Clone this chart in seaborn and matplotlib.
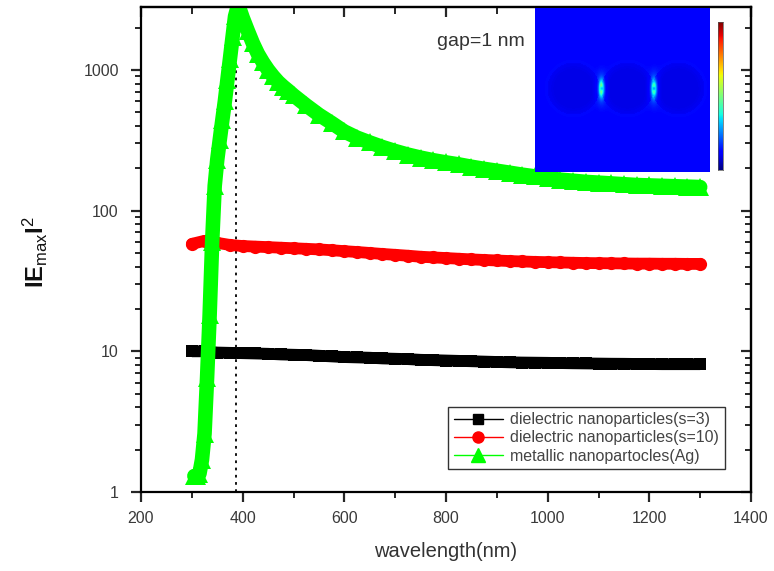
import numpy as np
import matplotlib
matplotlib.use("Agg")
import matplotlib.pyplot as plt
from matplotlib.lines import Line2D
from matplotlib.ticker import LogLocator, NullFormatter, MultipleLocator, FixedLocator
import seaborn as sns

# ---------------- data ----------------
wl_diel = [300, 325, 350, 375, 400, 425, 450, 475, 500, 525, 550, 575, 600, 625, 650,
           675, 700, 725, 750, 775, 800, 825, 850, 875, 900, 925, 950, 975, 1000, 1025,
           1050, 1075, 1100, 1125, 1150, 1175, 1200, 1225, 1250, 1275, 1300]
e_s3 = [10.0, 10.0, 9.8, 9.75, 9.7, 9.65, 9.6, 9.5, 9.45, 9.4, 9.3, 9.2, 9.1, 9.05, 9.0,
        8.9, 8.85, 8.8, 8.7, 8.65, 8.6, 8.55, 8.5, 8.45, 8.4, 8.35, 8.32, 8.3, 8.28, 8.25,
        8.22, 8.2, 8.18, 8.16, 8.15, 8.13, 8.12, 8.1, 8.1, 8.1, 8.1]
e_s10 = [58, 61, 59, 57, 56, 55.5, 55, 54.5, 54, 53.5, 53, 52.3, 51.5, 50.8, 50,
         49.2, 48.5, 47.8, 47, 46.5, 46, 45.5, 45, 44.6, 44.2, 43.8, 43.5, 43.2, 43, 42.8,
         42.6, 42.4, 42.3, 42.2, 42.1, 42, 42, 41.9, 41.9, 41.8, 41.8]
wl_ag = [305, 310, 315, 320, 325, 330, 335, 340, 345, 350, 355, 360, 365, 370, 375,
         380, 385, 390, 395, 400, 410, 420, 430, 440, 450, 460, 470, 480, 490, 500,
         525, 550, 575, 600, 625, 650, 675, 700, 725, 750, 775, 800, 825, 850, 875,
         900, 925, 950, 975, 1000, 1025, 1050, 1075, 1100, 1125, 1150, 1175, 1200,
         1225, 1250, 1275, 1300]
e_ag = [1.3, 1.3, 1.35, 1.7, 2.6, 6.5, 18, 60, 150, 230, 320, 440, 600, 850, 1200,
        1700, 2400, 2800, 2650, 2350, 1900, 1550, 1300, 1130, 1000, 900, 820, 760, 710, 660,
        560, 480, 420, 365, 330, 305, 283, 265, 250, 238, 228, 220, 213, 205, 198,
        192, 186, 180, 175, 170, 166, 163, 160, 158, 156, 154, 152, 151,
        150, 149, 148, 147]
labels = ["dielectric nanoparticles(s=3)", "dielectric nanoparticles(s=10)",
          "metallic nanopartocles(Ag)"]
peak_wl = 386
xticks = [200, 400, 600, 800, 1000, 1200, 1400]
yticks = [1, 10, 100, 1000]
ytick_labels = ["1", "10", "100", "1000"]

# ---------------- style ----------------
sns.set_style("ticks")
plt.rcParams["font.family"] = ["Liberation Sans", "DejaVu Sans"]
plt.rcParams["mathtext.fontset"] = "custom"
plt.rcParams["mathtext.rm"] = "Liberation Sans"
plt.rcParams["mathtext.bf"] = "Liberation Sans:bold"
plt.rcParams["mathtext.it"] = "Liberation Sans"

fig = plt.figure(figsize=(7.74, 5.71), dpi=100)
L, R, T, B = 141, 751, 7, 492
W, H = 774, 571
ax = fig.add_axes([L / W, 1 - B / H, (R - L) / W, (B - T) / H])

sns.lineplot(x=wl_diel, y=e_s3, ax=ax, color="black", linewidth=8.5, marker="s",
             markersize=8.5, markeredgewidth=0, sort=False, legend=False,
             solid_capstyle="butt")
sns.lineplot(x=wl_diel, y=e_s10, ax=ax, color="#ff0000", linewidth=8.5, marker="o",
             markersize=9.5, markeredgewidth=0, sort=False, legend=False,
             solid_capstyle="round")
sns.lineplot(x=wl_ag, y=e_ag, ax=ax, color="#00ff00", linewidth=10.5, marker="^",
             markersize=12.5, markeredgewidth=0, sort=False, legend=False,
             solid_capstyle="round", solid_joinstyle="round")

ax.axvline(peak_wl, color="black", linestyle=(0, (1.5, 2.5)), linewidth=1.3, zorder=1)

ax.set_yscale("log")
ax.set_xlim(200, 1400)
ax.set_ylim(1, 2800)

lw_sp = 1.6
for s in ax.spines.values():
    s.set_linewidth(lw_sp)
    s.set_color("black")

ax.xaxis.set_major_locator(FixedLocator(xticks))
ax.xaxis.set_minor_locator(MultipleLocator(100))
ax.set_yticks(yticks)
ax.set_yticklabels(ytick_labels)
ax.yaxis.set_minor_locator(LogLocator(base=10, subs=np.arange(2, 10)))
ax.yaxis.set_minor_formatter(NullFormatter())
tick_col = "#3a3a3a"
ax.tick_params(axis="both", which="major", direction="out", length=7, width=1.6,
               labelsize=11.5, labelcolor=tick_col)
ax.tick_params(axis="both", which="minor", direction="out", length=4, width=1.4)
ax.tick_params(axis="x", which="major", pad=7)
ax.tick_params(axis="y", which="major", pad=9)

# top and right axes with inward ticks
sec_x = ax.secondary_xaxis("top")
sec_x.xaxis.set_major_locator(FixedLocator(xticks))
sec_x.xaxis.set_minor_locator(MultipleLocator(100))
sec_x.tick_params(which="major", direction="in", length=7, width=1.6, labeltop=False)
sec_x.tick_params(which="minor", direction="in", length=5, width=1.4)
sec_x.spines["top"].set_linewidth(lw_sp)
sec_y = ax.secondary_yaxis("right")
sec_y.set_yticks(yticks)
sec_y.yaxis.set_minor_locator(LogLocator(base=10, subs=np.arange(2, 10)))
sec_y.yaxis.set_minor_formatter(NullFormatter())
sec_y.tick_params(which="major", direction="in", length=7, width=1.6, labelright=False)
sec_y.tick_params(which="minor", direction="in", length=4, width=1.4)
sec_y.spines["right"].set_linewidth(lw_sp)

ax.set_xlabel("wavelength(nm)", fontsize=14.5, color="#333333", labelpad=11)
ax.set_ylabel(r"IE$_{\mathrm{max}}$I$^{2}$", fontsize=17, fontweight="bold",
              color="#111111")
ax.yaxis.set_label_coords(-0.15, 0.495)

ax.text(0.485, 0.92, "gap=1 nm", transform=ax.transAxes, fontsize=14,
        color="#333333", va="baseline", ha="left")

handles = [
    Line2D([], [], color="black", lw=1.0, marker="s", markersize=7),
    Line2D([], [], color="#ff0000", lw=1.0, marker="o", markersize=8),
    Line2D([], [], color="#00ff00", lw=1.0, marker="^", markersize=10),
]
leg = ax.legend(handles, labels, loc="lower right", bbox_to_anchor=(0.957, 0.047),
                borderaxespad=0, fontsize=11.5, frameon=True, fancybox=False,
                edgecolor="black", handlelength=3.1, labelspacing=0.2,
                handletextpad=0.45, borderpad=0.35)
leg.get_frame().set_linewidth(1.0)
for t in leg.get_texts():
    t.set_color("#444444")

# ---------------- inset field map ----------------
ax_in = fig.add_axes([535 / W, 1 - 172 / H, 175 / W, 164 / H])
ny, nx = 164, 175
yy, xx = np.mgrid[0:ny, 0:nx]
field = np.full((ny, nx), 0.12)
cy = 80
centers = [38, 92, 143]
rad = 26
for cx in centers:
    d = np.hypot(xx - cx, yy - cy)
    field = np.where(d < rad, 0.09, field)
    field += 0.012 * np.exp(-((d - rad) ** 2) / 30.0)
for gx in [(centers[0] + centers[1]) / 2 + 1, (centers[1] + centers[2]) / 2 + 1]:
    g = np.exp(-((xx - gx) ** 2) / 6.0 - ((yy - cy) ** 2) / 60.0)
    g2 = np.exp(-((xx - gx) ** 2) / 20.0 - ((yy - cy) ** 2) / 250.0)
    field += 0.35 * g + 0.08 * g2
    gap = np.exp(-((xx - gx) ** 2) / 2.0 - ((yy - cy) ** 2) / 6.0)
    field -= 0.25 * gap
ax_in.imshow(field, cmap="jet", vmin=0, vmax=1, aspect="auto", interpolation="bilinear")
ax_in.set_xticks([])
ax_in.set_yticks([])
for s in ax_in.spines.values():
    s.set_visible(False)

ax_cb = fig.add_axes([718 / W, 1 - 170 / H, 5 / W, 148 / H])
grad = np.linspace(1, 0, 256).reshape(-1, 1)
ax_cb.imshow(grad, cmap="jet", aspect="auto")
ax_cb.set_xticks([])
ax_cb.set_yticks([])
for s in ax_cb.spines.values():
    s.set_linewidth(0.5)
    s.set_color("#555555")

fig.savefig("out.png", dpi=100)
